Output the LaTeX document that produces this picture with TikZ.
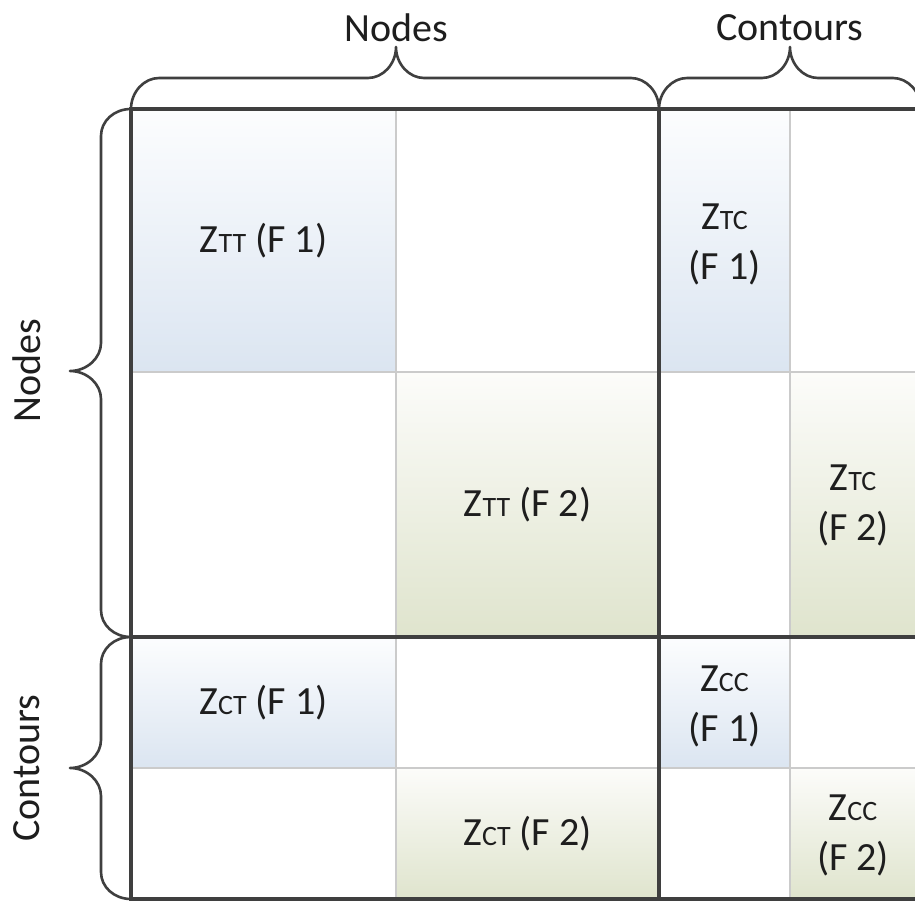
\documentclass[tikz,border=0pt]{standalone}
\usepackage{fontspec}
\setmainfont{Carlito}
\definecolor{rulegray}{HTML}{3F3F3F}
\definecolor{gridgray}{HTML}{CBCBCB}
\definecolor{inkblack}{HTML}{1E1E1E}
\definecolor{paletop}{HTML}{FCFDFE}
\definecolor{bluebottom}{HTML}{DBE5F1}
\definecolor{greentop}{HTML}{FCFCFA}
\definecolor{greenbottom}{HTML}{DFE4CD}
% smaller letters for the index part of the block names
\newcommand\lowidx[1]{{\fontsize{28}{28}\selectfont #1}}
\tikzset{
  bluefill/.style={top color=paletop, bottom color=bluebottom, draw=none},
  greenfill/.style={top color=greentop, bottom color=greenbottom, draw=none},
  gridline/.style={draw=gridgray, line width=1.8pt},
  boldline/.style={draw=rulegray, line width=3.2pt},
  bracepath/.style={draw=rulegray, line width=2.6pt, line join=round},
  celltext/.style={text=inkblack, font=\fontsize{40}{50}\selectfont, align=center, inner sep=0pt},
  headtext/.style={text=inkblack, font=\fontsize{40}{48}\selectfont, inner sep=0pt},
}
\begin{document}
\begin{tikzpicture}[x=1pt,y=-1pt]
\useasboundingbox (0,0) rectangle (915,902);
\clip (0,0) rectangle (915,902);
\fill[white] (0,0) rectangle (915,902);

% shaded diagonal blocks
\shade[bluefill]  (131,109) rectangle (396,372);
\shade[greenfill] (396,372) rectangle (659,637);
\shade[bluefill]  (659,109) rectangle (790,372);
\shade[greenfill] (790,372) rectangle (916,637);
\shade[bluefill]  (131,637) rectangle (396,768);
\shade[greenfill] (396,768) rectangle (659,899);
\shade[bluefill]  (659,637) rectangle (790,768);
\shade[greenfill] (790,768) rectangle (916,899);

% light inner grid
\draw[gridline] (396,109) -- (396,899);
\draw[gridline] (790,109) -- (790,899);
\draw[gridline] (131,372) -- (916,372);
\draw[gridline] (131,768) -- (916,768);

% heavy frame and block dividers
\draw[boldline] (916,109) -- (131,109) -- (131,899) -- (916,899);
\draw[boldline] (659,109) -- (659,899);
\draw[boldline] (131,637) -- (916,637);

% braces over the columns
\draw[bracepath] (131,109) .. controls (131,92) and (144,78) .. (159,78)
  -- (368,78) .. controls (383,78) and (396,64) .. (396,47)
  .. controls (396,64) and (409,78) .. (424,78)
  -- (631,78) .. controls (646,78) and (659,92) .. (659,109);
\draw[bracepath] (659,109) .. controls (659,92) and (672,78) .. (687,78)
  -- (762,78) .. controls (777,78) and (790,64) .. (790,47)
  .. controls (790,64) and (803,78) .. (818,78)
  -- (893,78) .. controls (908,78) and (921,92) .. (921,109);

% braces beside the rows
\draw[bracepath] (131,109) .. controls (114,109) and (101,121) .. (101,136)
  -- (101,343) .. controls (101,358) and (87,371) .. (70,371)
  .. controls (87,371) and (101,384) .. (101,399)
  -- (101,610) .. controls (101,625) and (114,637) .. (131,637);
\draw[bracepath] (131,637) .. controls (114,637) and (101,649) .. (101,664)
  -- (101,740) .. controls (101,755) and (87,768) .. (70,768)
  .. controls (87,768) and (101,781) .. (101,796)
  -- (101,872) .. controls (101,887) and (114,899) .. (131,899);

% group headings
\node[headtext] (colNodes) at (396,28) {Nodes};
\node[headtext] (colContours) at (790,28) {Contours};
\node[headtext, rotate=90] (rowNodes) at (27,371) {Nodes};
\node[headtext, rotate=90] (rowContours) at (27,768) {Contours};

% block labels
\node[celltext] (ttOne) at (263.5,240.5) {Z\lowidx{TT} (F 1)};
\node[celltext] (ttTwo) at (527.5,504.5) {Z\lowidx{TT} (F 2)};
\node[celltext] (tcOne) at (724.5,244) {Z\lowidx{TC}\\(F 1)};
\node[celltext] (tcTwo) at (853,505) {Z\lowidx{TC}\\(F 2)};
\node[celltext] (ctOne) at (263.5,702.5) {Z\lowidx{CT} (F 1)};
\node[celltext] (ctTwo) at (527.5,833.5) {Z\lowidx{CT} (F 2)};
\node[celltext] (ccOne) at (724.5,706) {Z\lowidx{CC}\\(F 1)};
\node[celltext] (ccTwo) at (853,835) {Z\lowidx{CC}\\(F 2)};
\end{tikzpicture}
\end{document}
